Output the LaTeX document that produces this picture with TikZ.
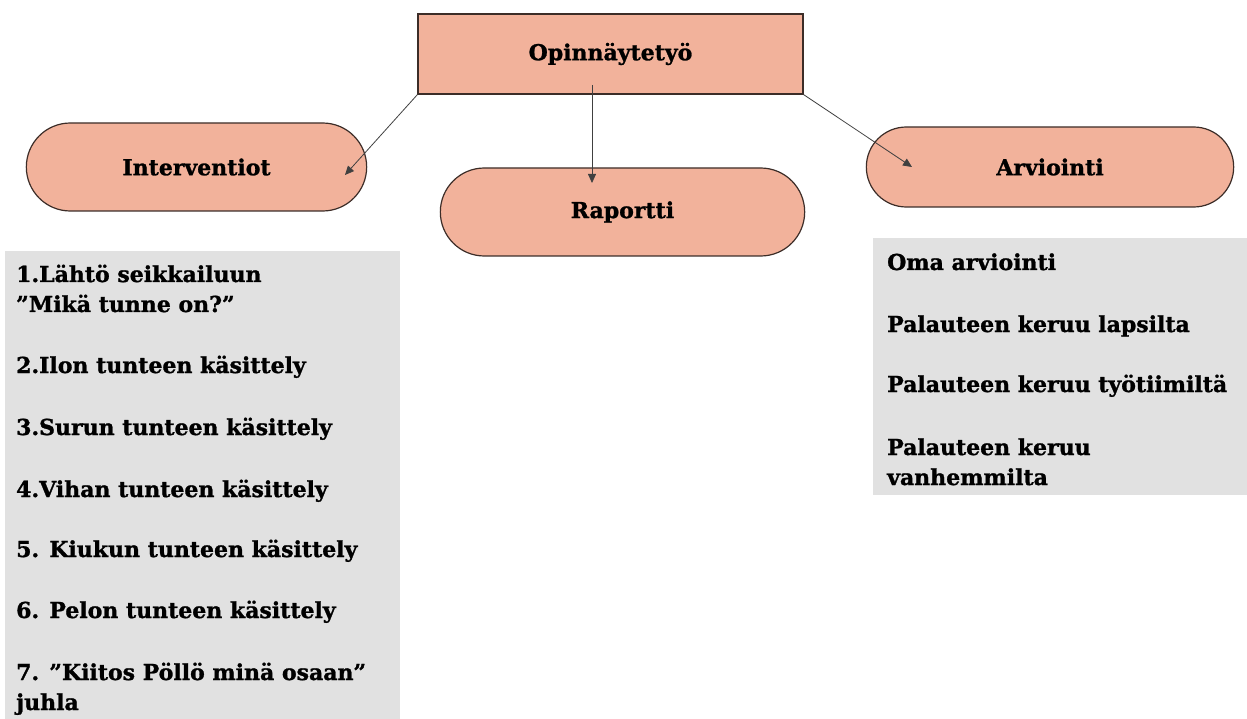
\documentclass[tikz,border=0pt]{standalone}
\usepackage{fontspec}
\setmainfont{DejaVu Serif}[BoldFeatures={FakeBold=1.2}]
\usetikzlibrary{shapes.misc,arrows.meta}
\definecolor{salmon}{RGB}{242,178,155}
\definecolor{edge}{RGB}{60,45,40}
\definecolor{panel}{RGB}{225,225,225}
\tikzset{
  pill/.style={rounded rectangle, draw=edge, line width=1.2pt, fill=salmon,
    minimum height=88pt, font=\bfseries\fontsize{22}{22}\selectfont},
  item/.style={anchor=base west, inner sep=0pt, align=left,
    font=\bfseries\fontsize{22}{30}\selectfont},
  arr/.style={-{Triangle[length=9pt,width=8pt]}, draw=black!75, line width=0.8pt}
}
\begin{document}
\begin{tikzpicture}[x=1pt,y=-1pt]
	\useasboundingbox (0,0) rectangle (1247,719);
	% top box
	\node[draw=edge, line width=1.2pt, fill=salmon, minimum width=385pt, minimum height=80pt,
		font=\bfseries\fontsize{22}{22}\selectfont] (thesis) at (610.5,54) {Opinnäytetyö};
	% three branches
	\node[pill, minimum width=347pt] (interv) at (196.5,167) {Interventiot};
	\node[pill, minimum width=371pt] (report) at (622.5,212) {Raportti};
	\node[pill, minimum width=374pt, minimum height=80pt] (eval) at (1050,167) {Arviointi};
	\coordinate (tipI) at (345,175);
	\coordinate (tipR) at (592,183);
	\coordinate (tipE) at (912,167);
	\coordinate (midT) at (592,85);
	\draw[arr] (thesis.south west) -- (tipI);
	\draw[arr] (midT) -- (tipR);
	\draw[arr] (thesis.south east) -- (tipE);
	% grey panels
	\fill[panel] (5,251) rectangle (400,719);
	\fill[panel] (873,238) rectangle (1247,495);
	% left list (base = last line)
	\node[item] (i1) at (16,312) {1.Lähtö seikkailuun\\”Mikä tunne on?”};
	\node[item] (i2) at (16,373) {2.Ilon tunteen käsittely};
	\node[item] (i3) at (16,435) {3.Surun tunteen käsittely};
	\node[item] (i4) at (16,497) {4.Vihan tunteen käsittely};
	\node[item] (i5) at (16,557) {5. Kiukun tunteen käsittely};
	\node[item] (i6) at (16,618) {6. Pelon tunteen käsittely};
	\node[item] (i7) at (16,710) {7. ”Kiitos Pöllö minä osaan”\\juhla};
	% right list
	\node[item] (e1) at (887,270) {Oma arviointi};
	\node[item] (e2) at (887,332) {Palauteen keruu lapsilta};
	\node[item] (e3) at (887,392) {Palauteen keruu työtiimiltä};
	\node[item] (e4) at (887,485) {Palauteen keruu\\vanhemmilta};
\end{tikzpicture}
\end{document}
